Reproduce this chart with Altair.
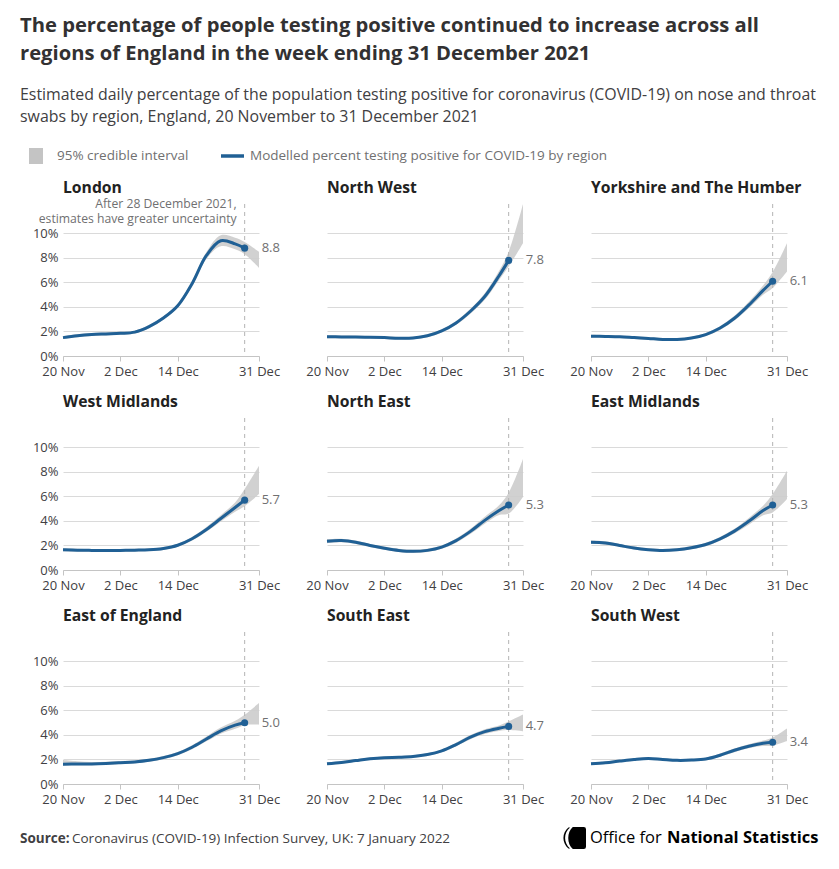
import altair as alt
import pandas as pd

FONT = "Open Sans"
BLUE = "#206095"
BAND = "#cccccc"
GRID = "#dadada"
AXIS = "#c4c4c4"
DARK = "#414042"
MUTED = "#707071"

TITLE_LINES = [
    "The percentage of people testing positive continued to increase across all",
    "regions of England in the week ending 31 December 2021",
]
SUBTITLE_LINES = [
    "Estimated daily percentage of the population testing positive for coronavirus (COVID-19) on nose and throat",
    "swabs by region, England, 20 November to 31 December 2021",
]
LEGEND_BAND = "95% credible interval"
LEGEND_LINE = "Modelled percent testing positive for COVID-19 by region"
SOURCE_BOLD = "Source:"
SOURCE_TEXT = "Coronavirus (COVID-19) Infection Survey, UK: 7 January 2022"
ANNOTATION = ["After 28 December 2021,", "estimates have greater uncertainty"]
ONS_REGULAR = "Office for"
ONS_BOLD = "National Statistics"

DATES = ["2021-11-20", "2021-11-23", "2021-11-26", "2021-11-29", "2021-12-02",
         "2021-12-05", "2021-12-08", "2021-12-11", "2021-12-14", "2021-12-17",
         "2021-12-20", "2021-12-23", "2021-12-26", "2021-12-28", "2021-12-31"]
UNCERTAIN_FROM = "2021-12-28"
X_TICKS = ["2021-11-20", "2021-12-02", "2021-12-14", "2021-12-31"]
Y_TICKS = [0, 2, 4, 6, 8, 10]
Y_MAX = 12.4

REGIONS = ["London", "North West", "Yorkshire and The Humber",
           "West Midlands", "North East", "East Midlands",
           "East of England", "South East", "South West"]

london_mid = [1.5, 1.65, 1.75, 1.8, 1.85, 1.95, 2.4, 3.1, 4.1, 5.9, 8.2, 9.4, 9.15, 8.8]
london_low = [1.38, 1.53, 1.63, 1.68, 1.73, 1.83, 2.27, 2.95, 3.93, 5.68, 7.92, 8.95, 8.7, 8.3, 7.2]
london_high = [1.62, 1.77, 1.87, 1.92, 1.97, 2.07, 2.53, 3.25, 4.27, 6.12, 8.48, 9.85, 9.65, 9.3, 8.5]

nw_mid = [1.57, 1.56, 1.55, 1.53, 1.5, 1.45, 1.47, 1.65, 2.05, 2.7, 3.65, 4.85, 6.55, 7.8]
nw_low = [1.45, 1.45, 1.44, 1.42, 1.39, 1.34, 1.36, 1.53, 1.92, 2.54, 3.45, 4.58, 6.2, 7.3, 9.2]
nw_high = [1.69, 1.67, 1.66, 1.64, 1.61, 1.56, 1.58, 1.77, 2.18, 2.86, 3.85, 5.12, 6.95, 8.5, 12.4]

yh_mid = [1.62, 1.6, 1.57, 1.5, 1.43, 1.35, 1.35, 1.47, 1.75, 2.28, 3.08, 4.15, 5.35, 6.1]
yh_low = [1.5, 1.49, 1.46, 1.39, 1.32, 1.24, 1.24, 1.36, 1.63, 2.13, 2.9, 3.9, 5.0, 5.55, 6.9]
yh_high = [1.74, 1.71, 1.68, 1.61, 1.54, 1.46, 1.46, 1.58, 1.87, 2.43, 3.28, 4.42, 5.75, 6.85, 9.2]

wm_mid = [1.65, 1.62, 1.6, 1.6, 1.6, 1.62, 1.65, 1.76, 2.02, 2.55, 3.3, 4.2, 5.1, 5.7]
wm_low = [1.53, 1.51, 1.49, 1.49, 1.49, 1.51, 1.54, 1.64, 1.89, 2.4, 3.12, 3.95, 4.75, 5.2, 6.2]
wm_high = [1.77, 1.73, 1.71, 1.71, 1.71, 1.73, 1.76, 1.88, 2.15, 2.7, 3.5, 4.47, 5.5, 6.6, 8.5]

ne_mid = [2.35, 2.4, 2.27, 2.0, 1.78, 1.6, 1.52, 1.6, 1.87, 2.4, 3.15, 4.05, 4.85, 5.3]
ne_low = [2.18, 2.26, 2.13, 1.87, 1.65, 1.47, 1.39, 1.47, 1.73, 2.23, 2.94, 3.78, 4.48, 4.6, 5.95]
ne_high = [2.52, 2.55, 2.41, 2.13, 1.91, 1.73, 1.65, 1.73, 2.01, 2.57, 3.37, 4.35, 5.28, 6.3, 9.05]

em_mid = [2.27, 2.21, 2.0, 1.79, 1.66, 1.6, 1.66, 1.82, 2.08, 2.54, 3.17, 3.97, 4.85, 5.3]
em_low = [2.13, 2.08, 1.88, 1.67, 1.54, 1.48, 1.54, 1.69, 1.94, 2.38, 2.98, 3.7, 4.47, 4.7, 5.8]
em_high = [2.41, 2.34, 2.12, 1.91, 1.78, 1.72, 1.78, 1.95, 2.22, 2.7, 3.36, 4.25, 5.25, 6.2, 8.1]

ee_mid = [1.62, 1.63, 1.64, 1.68, 1.74, 1.8, 1.93, 2.15, 2.48, 3.0, 3.67, 4.33, 4.8, 5.0]
ee_low = [1.5, 1.52, 1.53, 1.57, 1.63, 1.69, 1.81, 2.02, 2.34, 2.84, 3.48, 4.1, 4.5, 4.8, 4.84]
ee_high = [1.95, 1.85, 1.8, 1.82, 1.87, 1.92, 2.05, 2.28, 2.62, 3.17, 3.87, 4.6, 5.15, 5.65, 6.6]

se_mid = [1.65, 1.76, 1.91, 2.06, 2.15, 2.18, 2.24, 2.4, 2.7, 3.22, 3.82, 4.27, 4.55, 4.7]
se_low = [1.55, 1.66, 1.81, 1.96, 2.05, 2.08, 2.14, 2.29, 2.58, 3.08, 3.65, 4.07, 4.32, 4.4, 4.3]
se_high = [1.75, 1.86, 2.01, 2.16, 2.25, 2.28, 2.34, 2.51, 2.82, 3.36, 3.99, 4.47, 4.78, 5.1, 5.66]

sw_mid = [1.65, 1.73, 1.87, 2.0, 2.08, 2.0, 1.93, 1.95, 2.04, 2.35, 2.75, 3.08, 3.32, 3.4]
sw_low = [1.55, 1.63, 1.77, 1.9, 1.98, 1.9, 1.83, 1.85, 1.93, 2.22, 2.6, 2.92, 3.1, 3.12, 3.5]
sw_high = [1.75, 1.83, 1.97, 2.1, 2.18, 2.1, 2.03, 2.05, 2.15, 2.48, 2.9, 3.25, 3.55, 3.8, 4.53]

SERIES = [
    (london_mid, london_low, london_high),
    (nw_mid, nw_low, nw_high),
    (yh_mid, yh_low, yh_high),
    (wm_mid, wm_low, wm_high),
    (ne_mid, ne_low, ne_high),
    (em_mid, em_low, em_high),
    (ee_mid, ee_low, ee_high),
    (se_mid, se_low, se_high),
    (sw_mid, sw_low, sw_high),
]


def dt(s):
    y, m, d = (int(p) for p in s.split("-"))
    return alt.DateTime(year=y, month=m, date=d)


ONS_EMBLEM = ("M -0.2 -1 L 0.8 -1 Q 1 -1 1 -0.8 L 1 0.8 Q 1 1 0.8 1 L -0.2 1 "
              "C -0.75 0.55 -0.75 -0.55 -0.2 -1 Z "
              "M -0.45 -0.95 C -1.05 -0.45 -1.05 0.45 -0.45 0.95 L -0.6 0.95 "
              "C -1.2 0.45 -1.2 -0.45 -0.6 -0.95 Z")


def make_panel(idx, name, mid, low, high):
    col = idx % 3
    band_df = pd.DataFrame({"date": pd.to_datetime(DATES), "low": low, "high": high})
    line_df = pd.DataFrame({"date": pd.to_datetime(DATES[:len(mid)]), "mid": mid})
    last_df = line_df.iloc[[-1]].copy()
    last_df["label"] = f"{mid[-1]:.1f}"
    rule_df = pd.DataFrame({"date": pd.to_datetime([UNCERTAIN_FROM])})
    one = pd.DataFrame({"k": [0]})

    xaxis = alt.Axis(values=[dt(v) for v in X_TICKS], format="%-d %b",
                     labelFont=FONT, labelFontSize=13, labelColor=DARK,
                     tickSize=5, tickColor=AXIS, domainColor=AXIS, grid=False,
                     labelPadding=4, labelFlush=False, labelOverlap=False)
    yaxis = alt.Axis(values=Y_TICKS, labelExpr="datum.value + '%'", labels=(col == 0),
                     ticks=False, domain=False, grid=True, gridColor=GRID,
                     labelFont=FONT, labelFontSize=13, labelColor=DARK, labelPadding=5)
    xs = alt.Scale(domain=[dt(DATES[0]), dt(DATES[-1])])
    ys = alt.Scale(domain=[0, Y_MAX], nice=False)
    X = alt.X("date:T", scale=xs, axis=xaxis, title=None)

    def Y(f):
        return alt.Y(f, type="quantitative", scale=ys, axis=yaxis, title=None)

    band = alt.Chart(band_df).mark_area(interpolate="catmull-rom", color=BAND, opacity=0.9).encode(
        x=X, y=Y("low"), y2="high")
    rule = alt.Chart(rule_df).mark_rule(color="#b3b3b3", strokeDash=[4, 4], strokeWidth=1).encode(x=X)
    line = alt.Chart(line_df).mark_line(interpolate="catmull-rom", color=BLUE, strokeWidth=3).encode(
        x=X, y=Y("mid"))
    pt = alt.Chart(last_df).mark_circle(size=50, color=BLUE, opacity=1).encode(x=X, y=Y("mid"))
    lab = alt.Chart(last_df).mark_text(align="left", baseline="middle", dx=17, font=FONT,
                                       fontSize=13, color=MUTED).encode(x=X, y=Y("mid"), text="label:N")
    ttl = alt.Chart(one).mark_text(text=name, align="left", baseline="middle", font=FONT,
                                   fontSize=15.7, fontWeight="bold", color="#222222").encode(
        x=alt.value(0), y=alt.value(-16))
    layers = [band, rule, line, pt, lab, ttl]

    if idx == 0:
        for i, txt in enumerate(ANNOTATION):
            layers.append(alt.Chart(rule_df).mark_text(text=txt, align="right", baseline="middle",
                                                       dx=-8, font=FONT, fontSize=12.2, color=MUTED).encode(
                x=X, y=alt.value(0 + 15 * i)))
        layers.append(alt.Chart(one).mark_rect(color="#c4c4c4").encode(
            x=alt.value(-34), x2=alt.value(-20), y=alt.value(-56), y2=alt.value(-40)))
        layers.append(alt.Chart(one).mark_text(text=LEGEND_BAND, align="left", baseline="middle",
                                               font=FONT, fontSize=13.5, color=MUTED).encode(
            x=alt.value(-6), y=alt.value(-48)))
        layers.append(alt.Chart(one).mark_rule(color=BLUE, strokeWidth=3.5).encode(
            x=alt.value(158), x2=alt.value(181), y=alt.value(-48)))
        layers.append(alt.Chart(one).mark_text(text=LEGEND_LINE, align="left", baseline="middle",
                                               font=FONT, fontSize=13.5, color=MUTED).encode(
            x=alt.value(187), y=alt.value(-48)))
    if idx == 6:
        layers.append(alt.Chart(one).mark_text(text=SOURCE_BOLD, align="left", baseline="middle",
                                               font=FONT, fontSize=13.5, fontWeight="bold", color=DARK).encode(
            x=alt.value(-43), y=alt.value(207)))
        layers.append(alt.Chart(one).mark_text(text=SOURCE_TEXT, align="left", baseline="middle",
                                               font=FONT, fontSize=13.5, color=DARK).encode(
            x=alt.value(9), y=alt.value(207)))
    if idx == 8:
        layers.append(alt.Chart(one).mark_point(shape=ONS_EMBLEM, size=484, filled=True,
                                                color="#000000", opacity=1).encode(
            x=alt.value(-16), y=alt.value(206)))
        layers.append(alt.Chart(one).mark_text(text=ONS_REGULAR, align="left", baseline="middle",
                                               font=FONT, fontSize=16.5, color="#000000").encode(
            x=alt.value(-1), y=alt.value(206)))
        layers.append(alt.Chart(one).mark_text(text=ONS_BOLD, align="left", baseline="middle",
                                               font=FONT, fontSize=16.5, fontWeight="bold",
                                               color="#000000").encode(
            x=alt.value(76), y=alt.value(206)))

    return alt.layer(*layers).properties(width=196, height=152)


panels = [make_panel(i, REGIONS[i], *SERIES[i]) for i in range(9)]

chart = alt.concat(
    *panels, columns=3, spacing={"row": 62, "column": 68}, bounds="flush"
).properties(
    title=alt.TitleParams(
        text=TITLE_LINES, subtitle=SUBTITLE_LINES, anchor="start",
        font=FONT, fontSize=20.2, fontWeight="bold", color="#323132", lineHeight=28,
        subtitleFont=FONT, subtitleFontSize=15.9, subtitleColor=DARK,
        subtitleLineHeight=22, subtitlePadding=23, offset=23,
    ),
    padding={"left": 12, "top": 7, "right": 8, "bottom": 10},
).configure_view(stroke=None)

chart.save("out.html", embed_options={"renderer": "svg", "actions": False})
